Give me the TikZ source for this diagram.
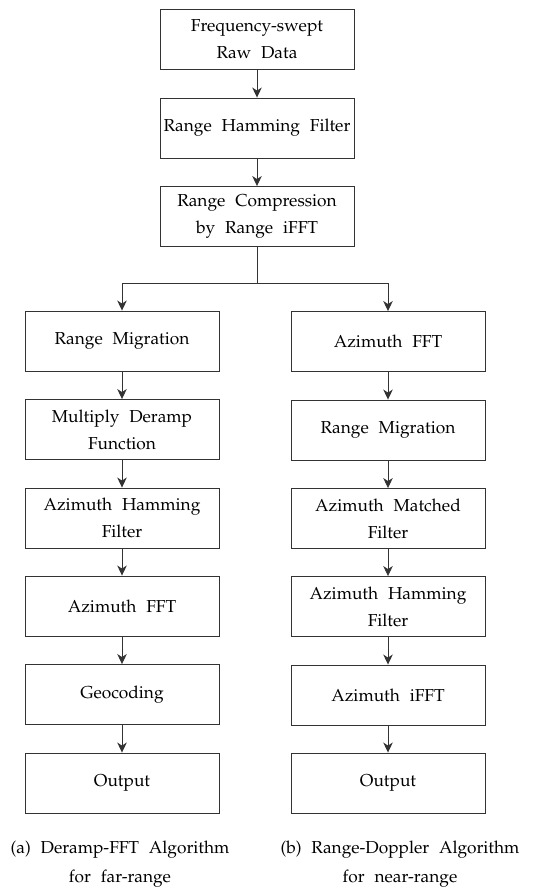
\documentclass[tikz,border=0pt]{standalone}
\usepackage[T1]{fontenc}
\renewcommand{\rmdefault}{ppl}
\usetikzlibrary{arrows.meta}
\newcommand{\boxfont}{\fontsize{17.3}{27}\selectfont\spaceskip=0.57em plus 0.1em\relax}
\newcommand{\capfont}{\fontsize{17.3}{29}\selectfont\spaceskip=0.57em plus 0.1em\relax}
\begin{document}
\begin{tikzpicture}[x=1pt,y=-1pt,
  box/.style={draw=black!80, line width=0.9pt, minimum width=194pt, minimum height=60pt,
    align=center, inner sep=2pt, font=\boxfont},
  captxt/.style={align=center, inner sep=0pt, font=\capfont},
  arr/.style={draw=black!80, line width=0.9pt, -{Stealth[length=10pt,width=9.5pt,inset=3pt]}},
  ln/.style={draw=black!80, line width=0.9pt}]
\useasboundingbox (0,0) rectangle (540,888);
% top column
\node[box] (raw) at (257,39) {Frequency-swept\\ Raw Data};
\node[box] (rhf) at (257,128) {Range Hamming Filter};
\node[box] (rc)  at (257,216.5) {Range Compression\\ by Range iFFT};
% left column
\node[box] (l1) at (122,341) {Range Migration};
\node[box] (l2) at (122,429.5) {Multiply Deramp\\ Function};
\node[box] (l3) at (122,518) {Azimuth Hamming\\ Filter};
\node[box] (l4) at (122,606) {Azimuth FFT};
\node[box] (l5) at (122,694.5) {Geocoding};
\node[box] (l6) at (122,783) {Output};
% right column
\node[box] (r1) at (388,341.5) {Azimuth FFT};
\node[box] (r2) at (388,430) {Range Migration};
\node[box] (r3) at (388,518.5) {Azimuth Matched\\ Filter};
\node[box] (r4) at (388,606.5) {Azimuth Hamming\\ Filter};
\node[box] (r5) at (388,695) {Azimuth iFFT};
\node[box] (r6) at (388,783) {Output};
% captions
\node[captxt] (ca) at (120,864) {(a) Deramp-FFT Algorithm\\ for far-range};
\node[captxt] (cb) at (400,864) {(b) Range-Doppler Algorithm\\ for near-range};
% connectors
\draw[arr] (raw) -- (rhf);
\draw[arr] (rhf) -- (rc);
\coordinate (br) at (257,283);
\draw[ln] (rc.south) -- (br);
\draw[arr] (br) -| (l1.north);
\draw[arr] (br) -| (r1.north);
\foreach \a/\b in {l1/l2,l2/l3,l3/l4,l4/l5,l5/l6,r1/r2,r2/r3,r3/r4,r4/r5,r5/r6}
  \draw[arr] (\a) -- (\b);
\end{tikzpicture}
\end{document}
